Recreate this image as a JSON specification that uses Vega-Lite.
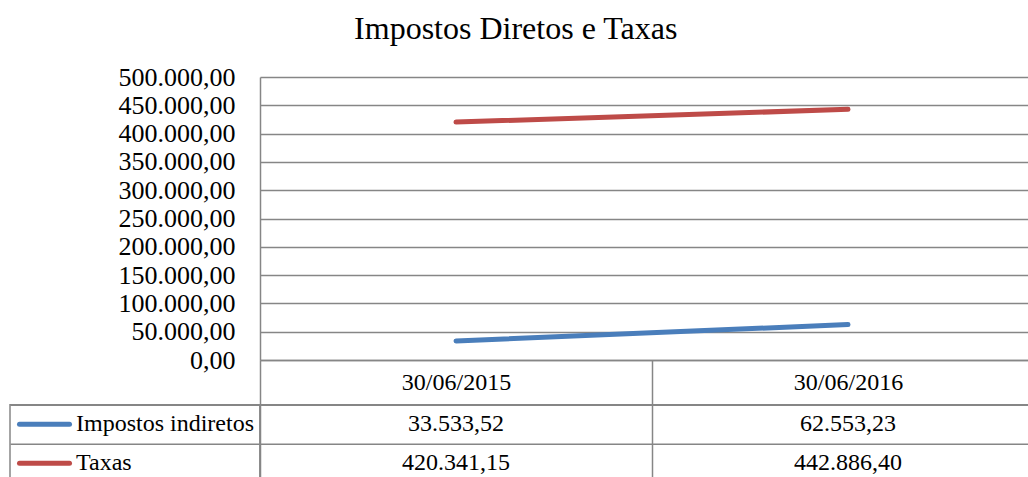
{
  "$schema": "https://vega.github.io/schema/vega-lite/v6.json",
  "padding": {"left": 8, "top": 13, "right": 0, "bottom": 0},
  "background": "white",
  "title": {
    "text": "Impostos Diretos e Taxas",
    "font": "Liberation Serif",
    "fontSize": 32,
    "fontWeight": "normal",
    "color": "black",
    "anchor": "middle",
    "dx": -11,
    "offset": 18
  },
  "datasets": {
    "main": [
      {"serie": "Impostos indiretos", "data": "30/06/2015", "valor": 33533.52},
      {"serie": "Impostos indiretos", "data": "30/06/2016", "valor": 62553.23},
      {"serie": "Taxas", "data": "30/06/2015", "valor": 420341.15},
      {"serie": "Taxas", "data": "30/06/2016", "valor": 442886.40}
    ],
    "series": [
      {"serie": "Impostos indiretos"},
      {"serie": "Taxas"}
    ],
    "empty": []
  },
  "columns": 2,
  "bounds": "flush",
  "spacing": {"row": 44.75, "column": 0},
  "concat": [
    {
      "width": 250,
      "height": 283,
      "data": {"name": "empty"},
      "mark": "point"
    },
    {
      "width": 784,
      "height": 283,
      "data": {"name": "main"},
      "mark": {"type": "line", "strokeWidth": 5, "strokeCap": "round"},
      "encoding": {
        "x": {
          "field": "data",
          "type": "nominal",
          "scale": {"type": "band", "domain": ["30/06/2015", "30/06/2016"], "paddingInner": 0, "paddingOuter": 0},
          "axis": {
            "title": null,
            "orient": "bottom",
            "tickBand": "extent",
            "tickSize": 44,
            "tickColor": "#868686",
            "tickWidth": 1.5,
            "domainColor": "#868686",
            "domainWidth": 1.5,
            "labelAngle": 0,
            "labelFont": "Liberation Serif",
            "labelFontSize": 24,
            "labelColor": "black",
            "labelBaseline": "middle",
            "labelPadding": -22,
            "grid": false
          }
        },
        "y": {
          "field": "valor",
          "type": "quantitative",
          "scale": {"domain": [0, 500000], "nice": false},
          "axis": {
            "title": null,
            "values": [0, 50000, 100000, 150000, 200000, 250000, 300000, 350000, 400000, 450000, 500000],
            "format": ",.2f",
            "ticks": false,
            "labelPadding": 25,
            "labelFont": "Liberation Serif",
            "labelFontSize": 26,
            "labelColor": "black",
            "labelBaseline": "middle",
            "domainColor": "#868686",
            "domainWidth": 1.5,
            "grid": true,
            "gridColor": "#868686",
            "gridWidth": 1.5,
            "gridOpacity": 1
          }
        },
        "color": {
          "field": "serie",
          "type": "nominal",
          "scale": {"domain": ["Impostos indiretos", "Taxas"], "range": ["#4A7EBB", "#BE4B48"]},
          "legend": null
        }
      }
    },
    {
      "width": 250,
      "height": 78,
      "view": {"stroke": "#868686", "strokeWidth": 1.5},
      "data": {"name": "series"},
      "encoding": {
        "y": {
          "field": "serie",
          "type": "nominal",
          "scale": {"type": "band", "domain": ["Impostos indiretos", "Taxas"], "paddingInner": 0, "paddingOuter": 0},
          "axis": {
            "title": null,
            "labels": false,
            "ticks": false,
            "domain": false,
            "grid": true,
            "tickBand": "extent",
            "gridColor": "#868686",
            "gridWidth": 1.5,
            "gridOpacity": 1,
            "minExtent": 0,
            "maxExtent": 0
          }
        }
      },
      "layer": [
        {
          "mark": {"type": "point", "shape": "M-1,0H1", "size": 2500, "strokeWidth": 5, "strokeCap": "round", "filled": false, "opacity": 1, "xOffset": -90.5},
          "encoding": {
            "color": {
              "field": "serie",
              "type": "nominal",
              "scale": {"domain": ["Impostos indiretos", "Taxas"], "range": ["#4A7EBB", "#BE4B48"]},
              "legend": null
            }
          }
        },
        {
          "mark": {"type": "text", "align": "left", "baseline": "middle", "dx": -59, "font": "Liberation Serif", "fontSize": 24, "color": "black"},
          "encoding": {
            "text": {"field": "serie", "type": "nominal"}
          }
        }
      ]
    },
    {
      "width": 784,
      "height": 78,
      "view": {"stroke": "#868686", "strokeWidth": 1.5},
      "data": {"name": "main"},
      "mark": {"type": "text", "align": "center", "baseline": "middle", "font": "Liberation Serif", "fontSize": 24, "color": "black"},
      "encoding": {
        "x": {
          "field": "data",
          "type": "nominal",
          "scale": {"type": "band", "domain": ["30/06/2015", "30/06/2016"], "paddingInner": 0, "paddingOuter": 0},
          "axis": {
            "title": null,
            "labels": false,
            "ticks": false,
            "domain": false,
            "grid": true,
            "tickBand": "extent",
            "gridColor": "#868686",
            "gridWidth": 1.5,
            "gridOpacity": 1,
            "minExtent": 0,
            "maxExtent": 0
          }
        },
        "y": {
          "field": "serie",
          "type": "nominal",
          "scale": {"type": "band", "domain": ["Impostos indiretos", "Taxas"], "paddingInner": 0, "paddingOuter": 0},
          "axis": {
            "title": null,
            "labels": false,
            "ticks": false,
            "domain": false,
            "grid": true,
            "tickBand": "extent",
            "gridColor": "#868686",
            "gridWidth": 1.5,
            "gridOpacity": 1,
            "minExtent": 0,
            "maxExtent": 0
          }
        },
        "text": {"field": "valor", "type": "quantitative", "format": ",.2f"}
      }
    }
  ],
  "config": {
    "view": {"stroke": null},
    "font": "Liberation Serif",
    "locale": {
      "number": {"decimal": ",", "thousands": ".", "grouping": [3], "currency": ["R$", ""]}
    }
  }
}
